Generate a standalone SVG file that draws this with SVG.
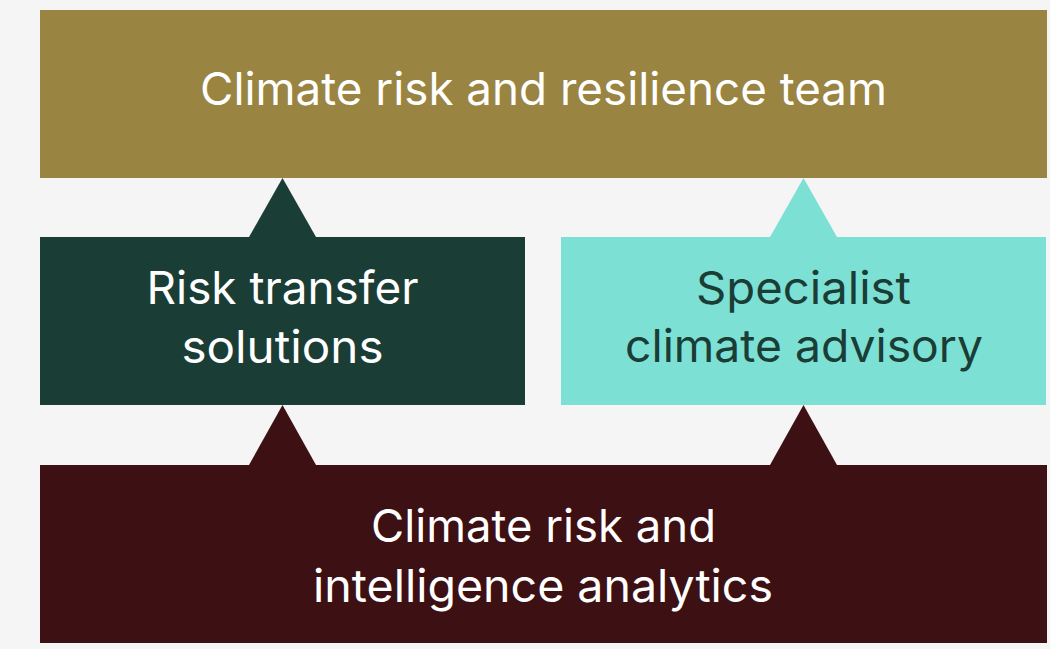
<svg xmlns="http://www.w3.org/2000/svg" width="1050" height="649" viewBox="0 0 1050 649">
<style>
.t{font-family:Inter,"Liberation Sans",sans-serif;font-size:45px;text-anchor:middle}
.w{fill:#ffffff}
.g{fill:#1A3D36}
</style>
<rect x="0" y="0" width="1050" height="649" fill="#F5F5F5"/>
<g id="connectors">
<polygon points="249,237 282.5,178 316,237" fill="#1A3D36"/>
<polygon points="770,237 803.5,178 837,237" fill="#7DE0D4"/>
<polygon points="249,465 282.5,405 316,465" fill="#3D1014"/>
<polygon points="770,465 803.5,405 837,465" fill="#3D1014"/>
</g>
<g id="team">
<rect x="40" y="10" width="1007" height="168" fill="#9A8441"/>
<text class="t w" x="543.5" y="105" textLength="687" lengthAdjust="spacingAndGlyphs">Climate risk and resilience team</text>
</g>
<g id="risk-transfer">
<rect x="40" y="237" width="485" height="168" fill="#1A3D36"/>
<text class="t w" x="282.5" y="304" textLength="272" lengthAdjust="spacingAndGlyphs">Risk transfer</text>
<text class="t w" x="282.5" y="363" textLength="202" lengthAdjust="spacingAndGlyphs">solutions</text>
</g>
<g id="specialist">
<rect x="561" y="237" width="485" height="168" fill="#7DE0D4"/>
<text class="t g" x="803.5" y="304" textLength="215" lengthAdjust="spacingAndGlyphs">Specialist</text>
<text class="t g" x="804" y="362" textLength="358" lengthAdjust="spacingAndGlyphs">climate advisory</text>
</g>
<g id="analytics">
<rect x="40" y="465" width="1007" height="178" fill="#3D1014"/>
<text class="t w" x="543.5" y="541.5" textLength="345" lengthAdjust="spacingAndGlyphs">Climate risk and</text>
<text class="t w" x="543" y="601.5" textLength="460" lengthAdjust="spacingAndGlyphs">intelligence analytics</text>
</g>
</svg>
